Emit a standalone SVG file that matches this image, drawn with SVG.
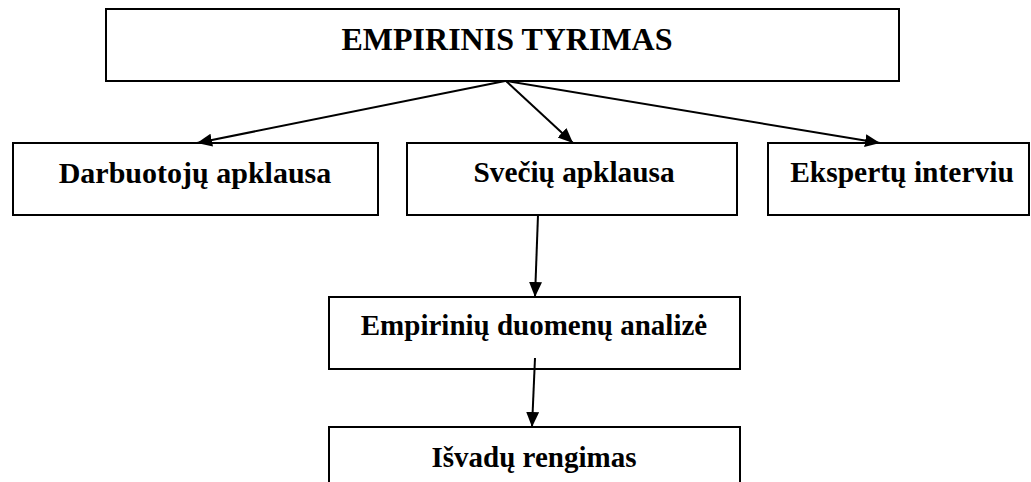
<svg xmlns="http://www.w3.org/2000/svg" width="1031" height="482" viewBox="0 0 1031 482">
<style>
.box{fill:#fff;stroke:#000;stroke-width:2}
.t{font-family:"Liberation Serif","Times New Roman",serif;font-weight:bold;fill:#000;text-anchor:middle}
.conn{stroke:#000;stroke-width:2;fill:none;marker-end:url(#ah)}
</style>
<defs>
<marker id="ah" markerUnits="userSpaceOnUse" markerWidth="16" markerHeight="14" refX="15" refY="6.5" orient="auto">
<path d="M0,0 L15,6.5 L0,13 z" fill="#000"/>
</marker>
</defs>
<rect width="1031" height="482" fill="#fff"/>
<g id="n-top"><rect class="box" x="106" y="9" width="793" height="72"/><text class="t" x="507" y="50" font-size="32">EMPIRINIS TYRIMAS</text></g>
<g id="n-darb"><rect class="box" x="13" y="143" width="365" height="72"/><text class="t" x="195" y="183" font-size="30">Darbuotojų apklausa</text></g>
<g id="n-svec"><rect class="box" x="407" y="143" width="330" height="72"/><text class="t" x="574" y="182" font-size="29.3">Svečių apklausa</text></g>
<g id="n-eksp"><rect class="box" x="768" y="143" width="261" height="72"/><text class="t" x="902" y="182" font-size="29.5">Ekspertų interviu</text></g>
<g id="n-emp"><rect class="box" x="329" y="297" width="411" height="72"/><text class="t" x="534" y="335" font-size="29">Empirinių duomenų analizė</text></g>
<g id="n-isv"><rect class="box" x="329" y="427" width="411" height="70"/><text class="t" x="534" y="467" font-size="29">Išvadų rengimas</text></g>
<g id="connectors">
<line class="conn" x1="505" y1="81" x2="197" y2="143"/>
<line class="conn" x1="506" y1="81" x2="573" y2="143"/>
<line class="conn" x1="506" y1="81" x2="880" y2="143"/>
<line class="conn" x1="538" y1="215" x2="535" y2="297"/>
<line class="conn" x1="535" y1="358" x2="532" y2="427"/>
</g>
</svg>
